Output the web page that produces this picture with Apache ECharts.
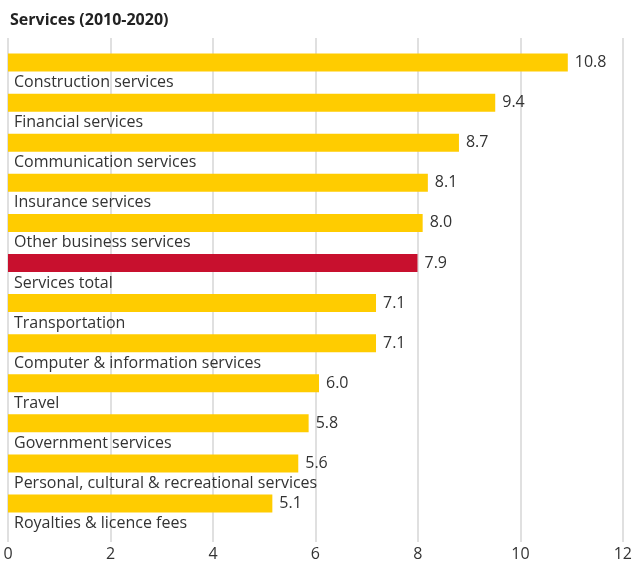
<!DOCTYPE html>
<html>
<head>
<meta charset="utf-8">
<script src="https://cdn.jsdelivr.net/npm/echarts@6/dist/echarts.min.js"></script>
<style>
  html, body { margin: 0; padding: 0; background: #fff; }
  #chart { width: 635px; height: 562px; }
</style>
</head>
<body>
<div id="chart"></div>
<script>
// Growth by service type, 2010-2020
const categories = [
  'Construction services',
  'Financial services',
  'Communication services',
  'Insurance services',
  'Other business services',
  'Services total',
  'Transportation',
  'Computer & information services',
  'Travel',
  'Government services',
  'Personal, cultural & recreational services',
  'Royalties & licence fees'
];
const values = [10.8, 9.4, 8.7, 8.1, 8.0, 7.9, 7.1, 7.1, 6.0, 5.8, 5.6, 5.1];
const highlighted = 'Services total';
const xTicks = [0, 2, 4, 6, 8, 10, 12];

const YELLOW = '#FFCC00';
const RED = '#C8102E';
const FONT = '"Open Sans", "Noto Sans", sans-serif';

const chart = echarts.init(document.getElementById('chart'), null, { renderer: 'canvas' });

chart.setOption({
  animation: false,
  title: {
    text: 'Services (2010-2020)',
    left: 5,
    top: 7,
    textStyle: { fontFamily: FONT, fontSize: 16, fontWeight: 'bold', color: '#222' }
  },
  grid: [
    // frame carrying the gridlines and tick labels
    { left: 8, right: 5, top: 38, bottom: 19, containLabel: false },
    // bars and their labels
    { left: 8, right: 5, top: 52.5, bottom: 28.5, containLabel: false }
  ],
  xAxis: [
    {
      gridIndex: 0,
      type: 'value',
      min: xTicks[0],
      max: xTicks[xTicks.length - 1],
      interval: 2,
      axisLine: { show: false },
      axisTick: { show: false },
      splitLine: { show: true, lineStyle: { color: '#d6d6d6', width: 1.5 } },
      axisLabel: {
        margin: 4,
        fontFamily: FONT,
        fontSize: 16,
        color: '#333',
        showMinLabel: true,
        showMaxLabel: true
      }
    },
    {
      gridIndex: 1,
      type: 'value',
      min: xTicks[0],
      max: xTicks[xTicks.length - 1],
      show: false
    }
  ],
  yAxis: [
    { gridIndex: 0, type: 'category', data: categories, inverse: true, show: false },
    {
      gridIndex: 1,
      type: 'category',
      data: categories,
      inverse: true,
      axisLine: { show: false },
      axisTick: { show: false },
      axisLabel: {
        inside: true,
        margin: 6,
        align: 'left',
        verticalAlign: 'top',
        padding: [2, 0, 0, 0],
        fontFamily: FONT,
        fontSize: 16,
        color: '#333'
      }
    }
  ],
  series: [
    {
      type: 'bar',
      xAxisIndex: 1,
      yAxisIndex: 1,
      barWidth: 18,
      barGap: '11%',
      data: values.map((v, i) => ({
        value: v,
        itemStyle: { color: categories[i] === highlighted ? RED : YELLOW }
      })),
      label: {
        show: true,
        position: 'right',
        distance: 7,
        fontFamily: FONT,
        fontSize: 16,
        color: '#333',
        formatter: p => p.value.toFixed(1)
      }
    },
    {
      // spacer series that pushes the bars into the upper part of each row
      type: 'bar',
      xAxisIndex: 1,
      yAxisIndex: 1,
      barWidth: 18,
      data: values.map(() => null),
      silent: true
    }
  ]
});
</script>
</body>
</html>
